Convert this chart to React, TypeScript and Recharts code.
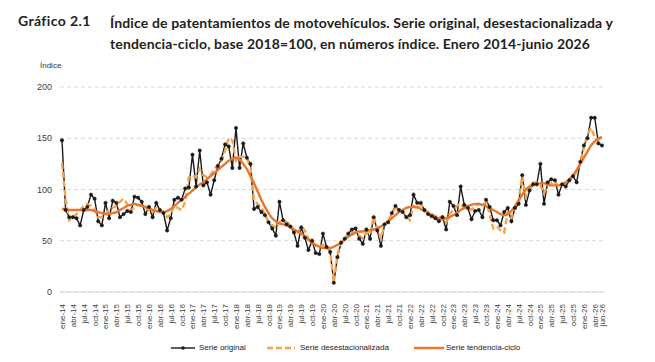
import React from "react";
import { LineChart, Line, XAxis, YAxis, CartesianGrid } from "recharts";

const months = ["ene", "feb", "mar", "abr", "may", "jun", "jul", "ago", "sep", "oct", "nov", "dic"];
const years = [14, 15, 16, 17, 18, 19, 20, 21, 22, 23, 24, 25, 26];

// 2014-2026, one row per year
const original = [
  148, 80, 73, 73, 72, 65, 80, 83, 95, 91, 69, 65,
  87, 72, 89, 87, 73, 76, 79, 78, 93, 92, 88, 76,
  83, 73, 87, 80, 77, 60, 72, 90, 92, 90, 101, 102,
  134, 103, 138, 104, 107, 95, 109, 123, 130, 144, 142, 121,
  160, 121, 145, 131, 125, 81, 83, 78, 75, 68, 62, 55,
  88, 70, 66, 64, 58, 45, 63, 53, 41, 50, 38, 37,
  57, 44, 39, 9, 34, 48, 52, 57, 61, 62, 52, 47,
  61, 52, 73, 60, 45, 66, 68, 77, 84, 80, 78, 73,
  75, 95, 87, 87, 80, 76, 74, 72, 69, 73, 61, 88,
  84, 75, 103, 85, 82, 71, 79, 80, 73, 90, 83, 70,
  70, 65, 78, 82, 69, 82, 86, 114, 85, 99, 105, 105,
  125, 86, 107, 110, 109, 95, 105, 103, 109, 113, 107, 127,
  143, 150, 170, 170, 145, 143,
];

const desest = [
  126, 90, 70, 73, 76, 80, 84, 86, 84, 80, 73, 73,
  76, 80, 82, 84, 88, 91, 86, 80, 82, 85, 84, 82,
  80, 78, 82, 80, 78, 73, 76, 84, 82, 80, 88, 112,
  114, 112, 120, 114, 112, 114, 120, 124, 128, 138, 150, 148,
  128, 132, 132, 130, 122, 89, 86, 82, 76, 68, 65, 63,
  68, 70, 68, 66, 60, 58, 64, 60, 52, 50, 45, 44,
  46, 44, 40, 10, 36, 50, 52, 56, 58, 58, 55, 52,
  58, 56, 74, 62, 52, 66, 70, 76, 82, 80, 78, 74,
  70, 84, 82, 86, 80, 78, 76, 74, 72, 74, 68, 76,
  80, 84, 86, 82, 82, 80, 84, 86, 84, 88, 76, 62,
  64, 60, 58, 78, 72, 84, 90, 113, 93, 100, 107, 107,
  104, 96, 104, 106, 108, 102, 106, 106, 110, 113, 117, 126,
  141, 154, 160, 151, 148, 151,
];

const tendencia = [
  81, 81, 80, 80, 80, 80, 80, 80, 80, 79, 78, 77,
  76, 76, 77, 78, 80, 82, 84, 85, 86, 85, 84, 83,
  82, 80, 79, 78, 78, 79, 81, 84, 87, 90, 93, 96,
  99, 102, 105, 107, 110, 113, 116, 119, 122, 125, 128, 130,
  131, 129, 125, 120, 113, 106, 98, 90, 83, 77, 72, 69,
  67, 66, 65, 63, 61, 59, 57, 54, 51, 48, 46, 44,
  43, 43, 43, 44, 46, 48, 51, 54, 56, 58, 59, 59,
  60, 60, 61, 62, 64, 66, 69, 72, 75, 78, 80, 82,
  83, 83, 83, 81, 79, 77, 75, 73, 72, 71, 72, 73,
  75, 77, 80, 82, 84, 85, 86, 86, 85, 84, 82, 80,
  78, 76, 75, 76, 79, 84, 89, 95, 100, 103, 105, 106,
  106, 106, 105, 104, 104, 104, 105, 107, 110, 114, 119, 125,
  131, 137, 143, 147, 150, 151,
];

const labels: string[] = [];
years.forEach((y) => months.forEach((m) => labels.push(`${m}-${y}`)));
const periods = labels.slice(0, original.length);

const data = periods.map((p, i) => ({
  periodo: p,
  original: original[i],
  desest: desest[i],
  tendencia: tendencia[i],
}));

const xTicks = periods.filter((_, i) => i % 3 === 0 || i === periods.length - 1);

const BLACK = "#1a1a1a";
const LIGHT_ORANGE = "#F9A24C";
const ORANGE = "#E8772E";
const axisFont = "'Liberation Sans', Arial, sans-serif";

const XTick = ({ x, y, payload }: any) => (
  <text
    x={x}
    y={y}
    dx={-4}
    dy={3}
    transform={`rotate(-90, ${x}, ${y})`}
    textAnchor="end"
    fontSize={8}
    fontFamily={axisFont}
    fill="#404040"
  >
    {payload.value}
  </text>
);

export default function App() {
  return (
    <div style={{ position: "absolute", left: 0, top: 0, width: 655, height: 362, background: "#fff", fontFamily: "Lato, sans-serif" }}>
      <div style={{ position: "absolute", left: 18, top: 12, fontSize: 14, fontWeight: 700, color: "#222", letterSpacing: 0.4 }}>
        Gráfico 2.1
      </div>
      <div style={{ position: "absolute", left: 110, top: 12, width: 545, fontSize: 14, fontWeight: 700, color: "#222", lineHeight: "21px", letterSpacing: 0.14, whiteSpace: "nowrap" }}>
        Índice de patentamientos de motovehículos. Serie original, desestacionalizada y
        <br />
        tendencia-ciclo, base 2018=100, en números índice. Enero 2014-junio 2026
      </div>
      <div style={{ position: "absolute", left: 40, top: 61, fontSize: 8, fontFamily: axisFont, color: "#333" }}>
        Índice
      </div>

      <div style={{ position: "absolute", left: 0, top: 0 }}>
        <LineChart width={655} height={362} data={data} margin={{ top: 87, right: 50, bottom: 0, left: 0 }}>
          <CartesianGrid vertical={false} stroke="#d9d9d9" strokeDasharray="4 3" />
          <XAxis
            dataKey="periodo"
            ticks={xTicks}
            interval={0}
            height={70}
            tick={<XTick />}
            tickLine={false}
            axisLine={{ stroke: "#d9d9d9" }}
            padding={{ left: 2, right: 3 }}
          />
          <YAxis
            domain={[0, 200]}
            ticks={[0, 50, 100, 150, 200]}
            width={60}
            axisLine={false}
            tickLine={false}
            tick={{ fontSize: 9, fill: "#404040", fontFamily: axisFont }}
          />
          <Line
            type="linear"
            dataKey="original"
            stroke={BLACK}
            strokeWidth={1.4}
            dot={{ r: 1.7, fill: BLACK, stroke: BLACK, strokeWidth: 0.5 }}
            isAnimationActive={false}
          />
          <Line
            type="linear"
            dataKey="desest"
            stroke={LIGHT_ORANGE}
            strokeWidth={2.4}
            strokeDasharray="6 3"
            dot={false}
            isAnimationActive={false}
          />
          <Line
            type="monotone"
            dataKey="tendencia"
            stroke={ORANGE}
            strokeWidth={2.4}
            dot={false}
            isAnimationActive={false}
          />
        </LineChart>
      </div>

      <div style={{ position: "absolute", left: 0, top: 342, width: 655, height: 14, fontSize: 8, fontFamily: axisFont, color: "#222" }}>
        <svg style={{ position: "absolute", left: 171, top: 1 }} width={24} height={10}>
          <line x1={0} y1={5} x2={24} y2={5} stroke={BLACK} strokeWidth={1.4} />
          <circle cx={12} cy={5} r={1.8} fill={BLACK} />
        </svg>
        <span style={{ position: "absolute", left: 199, top: 1 }}>Serie original</span>
        <svg style={{ position: "absolute", left: 267, top: 1 }} width={28} height={10}>
          <line x1={0} y1={5} x2={28} y2={5} stroke={LIGHT_ORANGE} strokeWidth={2.4} strokeDasharray="6 3" />
        </svg>
        <span style={{ position: "absolute", left: 300, top: 1 }}>Serie desestacionalizada</span>
        <svg style={{ position: "absolute", left: 414, top: 1 }} width={30} height={10}>
          <line x1={0} y1={5} x2={30} y2={5} stroke={ORANGE} strokeWidth={2.4} />
        </svg>
        <span style={{ position: "absolute", left: 446, top: 1 }}>Serie tendencia-ciclo</span>
      </div>
    </div>
  );
}
